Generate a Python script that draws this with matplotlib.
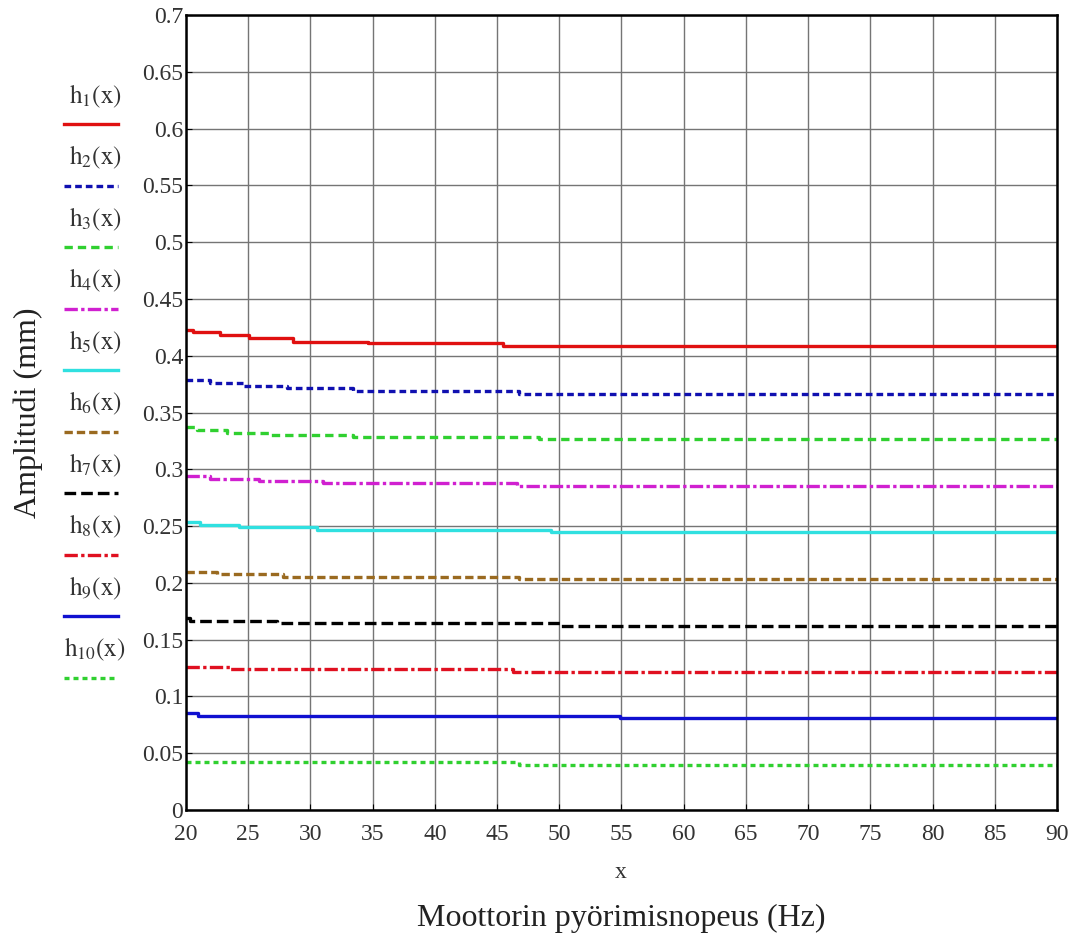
### amplitude vs motor speed chart
# mathcad-style step curves h1..h10 with legend on the left side

import matplotlib.pyplot as plt
from matplotlib.lines import Line2D

plt.rcParams['font.family'] = ['Liberation Serif', 'DejaVu Serif']
plt.rcParams['mathtext.fontset'] = 'stix'

# data: step breakpoints (Hz) and amplitude levels (mm) for each curve
x_end = 90
h1_x = [20, 20.6, 22.7, 25.1, 28.6, 34.6, 45.5]
h1_y = [0.4226, 0.4210, 0.4182, 0.4156, 0.4124, 0.4112, 0.4086]
h2_x = [20, 21.9, 24.6, 28.1, 33.4, 46.8]
h2_y = [0.3786, 0.3761, 0.3733, 0.3713, 0.3690, 0.3667]
h3_x = [20, 20.9, 23.3, 26.8, 33.4, 48.4]
h3_y = [0.3373, 0.3346, 0.3322, 0.3302, 0.3282, 0.3264]
h4_x = [20, 21.9, 25.9, 31.0, 46.6]
h4_y = [0.2942, 0.2919, 0.2898, 0.2880, 0.2854]
h5_x = [20, 21.1, 24.3, 30.5, 49.3]
h5_y = [0.2532, 0.2509, 0.2494, 0.2465, 0.2445]
h6_x = [20, 22.5, 27.8, 46.8]
h6_y = [0.2099, 0.2078, 0.2055, 0.2034]
h7_x = [20, 20.3, 27.3, 50.1]
h7_y = [0.1687, 0.1667, 0.1644, 0.1620]
h8_x = [20, 23.5, 46.3]
h8_y = [0.1262, 0.1239, 0.1212]
h9_x = [20, 21.0, 54.9]
h9_y = [0.0851, 0.0829, 0.0806]
h10_x = [20, 46.8]
h10_y = [0.0420, 0.0396]

labels = [r'$\mathrm{h_{%d}(x)}$' % i for i in range(1, 11)]
xticks = list(range(20, 95, 5))
yticks = [round(0.05 * i, 2) for i in range(15)]
ytick_labels = ['0'] + ['%g' % v for v in yticks[1:]]

series = [(h1_x, h1_y), (h2_x, h2_y), (h3_x, h3_y), (h4_x, h4_y), (h5_x, h5_y),
          (h6_x, h6_y), (h7_x, h7_y), (h8_x, h8_y), (h9_x, h9_y), (h10_x, h10_y)]

# line styles (colour, dash pattern)
styles = [
    ('#e01010', '-'),
    ('#1010b0', (0, (2.0, 1.2))),
    ('#30d030', (0, (2.5, 1.5))),
    ('#d020d0', (0, (4, 1, 1, 1))),
    ('#30e0e0', '-'),
    ('#9a6a20', (0, (2.5, 1.2))),
    ('#000000', (0, (3.5, 1.5))),
    ('#e01020', (0, (4, 1, 1, 1))),
    ('#1010d0', '-'),
    ('#30d030', (0, (1.5, 1.2))),
]
lw = 2.4
txt = '#333333'

fig = plt.figure(figsize=(10.83, 9.4), dpi=100)
ax = fig.add_axes([0.1717, 0.1383, 0.976 - 0.1717, 0.984 - 0.1383])

for (xs, ys), (col, ls) in zip(series, styles):
    ax.plot(xs + [x_end], ys + [ys[-1]], drawstyle='steps-post',
            color=col, linestyle=ls, linewidth=lw)

# axes and grid
ax.set_xlim(20, 90)
ax.set_ylim(0, 0.7)
ax.set_xticks(xticks)
ax.set_yticks(yticks)
ax.set_yticklabels(ytick_labels)
ax.grid(True, color='#757575', linewidth=1.0)
ax.set_axisbelow(True)
for s in ax.spines.values():
    s.set_linewidth(1.8)
    s.set_color('black')
ax.tick_params(direction='in', length=4, labelsize=17, colors='black',
               labelcolor=txt)
ax.tick_params(axis='y', pad=2)
ax.tick_params(axis='x', pad=10)

# axis titles
fig.text(621 / 1083, 1 - 873 / 940, 'x', ha='center', va='center',
         fontsize=17, color=txt)
fig.text(621 / 1083, 1 - 918 / 940, 'Moottorin pyörimisnopeus (Hz)',
         ha='center', va='center', fontsize=23, color='#222222')
fig.text(28 / 1083, 1 - 413 / 940, 'Amplitudi (mm)', rotation=90,
         ha='center', va='center', fontsize=23, color='#222222')

# legend drawn on the left, label above each line sample
for i, ((col, ls), lab) in enumerate(zip(styles, labels)):
    ty = 1 - (96 + i * 61.5) / 940
    ly = 1 - (124 + i * 61.5) / 940
    fig.text(95 / 1083, ty, lab, ha='center', va='center', fontsize=18,
             color=txt)
    fig.add_artist(Line2D([64 / 1083, 118 / 1083], [ly, ly], color=col,
                          linestyle=ls, linewidth=lw, transform=fig.transFigure))

fig.savefig('out.png', dpi=100)
